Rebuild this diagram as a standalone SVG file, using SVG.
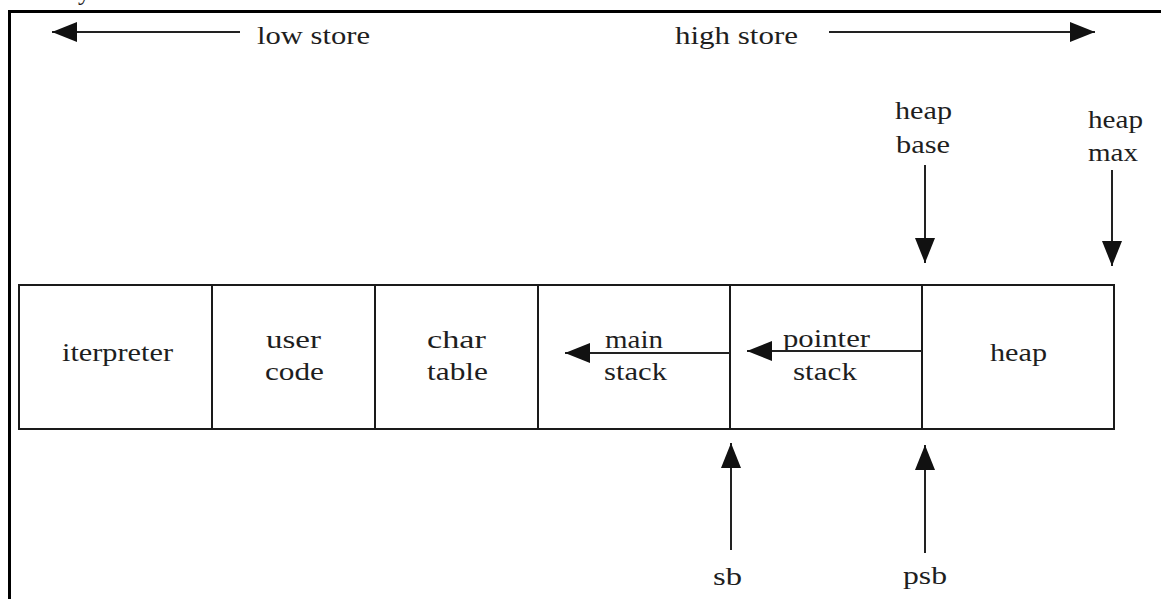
<svg xmlns="http://www.w3.org/2000/svg" width="1161" height="599" viewBox="0 0 1161 599">
  <style>
    .lbl { font-family: "Liberation Serif", "Times New Roman", serif; font-size: 25px; fill: #1e1e1e; }
    .cell { fill: #ffffff; stroke: #1a1a1a; stroke-width: 2; }
    .wire { fill: none; stroke: #222222; stroke-width: 2; marker-end: url(#head); }
  </style>
  <defs>
    <marker id="head" markerUnits="userSpaceOnUse" markerWidth="25" markerHeight="20" refX="25" refY="10" orient="auto">
      <path d="M0,0 L25,10 L0,20 Z" fill="#111111"/>
    </marker>
  </defs>

  <rect width="1161" height="599" fill="#ffffff"/>

  <!-- caption descender above the frame -->
  <text class="lbl" x="78" y="-0.5">y</text>

  <!-- outer frame -->
  <rect x="9.5" y="11.5" width="1200" height="700" fill="none" stroke="#000000" stroke-width="3"/>

  <!-- store direction labels -->
  <g id="low-store">
    <text class="lbl" x="257" y="44" textLength="113" lengthAdjust="spacingAndGlyphs">low store</text>
  </g>
  <g id="high-store">
    <text class="lbl" x="675" y="44" textLength="123" lengthAdjust="spacingAndGlyphs">high store</text>
  </g>

  <!-- memory regions -->
  <g id="interpreter">
    <rect class="cell" x="19" y="285" width="193" height="144"/>
    <text class="lbl" x="62" y="361" textLength="111" lengthAdjust="spacingAndGlyphs">iterpreter</text>
  </g>
  <g id="user-code">
    <rect class="cell" x="212" y="285" width="163" height="144"/>
    <text class="lbl" x="266" y="348" textLength="55" lengthAdjust="spacingAndGlyphs">user</text>
    <text class="lbl" x="265" y="380" textLength="59" lengthAdjust="spacingAndGlyphs">code</text>
  </g>
  <g id="char-table">
    <rect class="cell" x="375" y="285" width="163" height="144"/>
    <text class="lbl" x="427" y="348" textLength="59" lengthAdjust="spacingAndGlyphs">char</text>
    <text class="lbl" x="427" y="380" textLength="61" lengthAdjust="spacingAndGlyphs">table</text>
  </g>
  <g id="main-stack">
    <rect class="cell" x="538" y="285" width="192" height="144"/>
    <text class="lbl" x="605" y="348" textLength="58" lengthAdjust="spacingAndGlyphs">main</text>
    <text class="lbl" x="604" y="380" textLength="63" lengthAdjust="spacingAndGlyphs">stack</text>
  </g>
  <g id="pointer-stack">
    <rect class="cell" x="730" y="285" width="192" height="144"/>
    <text class="lbl" x="783" y="347" textLength="87" lengthAdjust="spacingAndGlyphs">pointer</text>
    <text class="lbl" x="793" y="380" textLength="64" lengthAdjust="spacingAndGlyphs">stack</text>
  </g>
  <g id="heap">
    <rect class="cell" x="922" y="285" width="192" height="144"/>
    <text class="lbl" x="990" y="361" textLength="57" lengthAdjust="spacingAndGlyphs">heap</text>
  </g>

  <!-- pointer labels -->
  <g id="heap-base">
    <text class="lbl" x="895" y="119" textLength="57" lengthAdjust="spacingAndGlyphs">heap</text>
    <text class="lbl" x="896" y="153" textLength="54" lengthAdjust="spacingAndGlyphs">base</text>
  </g>
  <g id="heap-max">
    <text class="lbl" x="1088" y="128" textLength="55" lengthAdjust="spacingAndGlyphs">heap</text>
    <text class="lbl" x="1088" y="161" textLength="50" lengthAdjust="spacingAndGlyphs">max</text>
  </g>
  <g id="sb">
    <text class="lbl" x="713" y="585" textLength="29" lengthAdjust="spacingAndGlyphs">sb</text>
  </g>
  <g id="psb">
    <text class="lbl" x="903" y="584" textLength="44" lengthAdjust="spacingAndGlyphs">psb</text>
  </g>

  <!-- connectors -->
  <g id="connectors">
    <line class="wire" x1="240" y1="32" x2="52" y2="32"/>
    <line class="wire" x1="829" y1="32" x2="1095" y2="32"/>
    <line class="wire" x1="925" y1="165" x2="925" y2="263"/>
    <line class="wire" x1="1112" y1="170" x2="1112" y2="266"/>
    <line class="wire" x1="730" y1="353" x2="565" y2="353"/>
    <line class="wire" x1="922" y1="351" x2="747" y2="351"/>
    <line class="wire" x1="731" y1="550" x2="731" y2="443"/>
    <line class="wire" x1="925" y1="553" x2="925" y2="445"/>
  </g>
</svg>
